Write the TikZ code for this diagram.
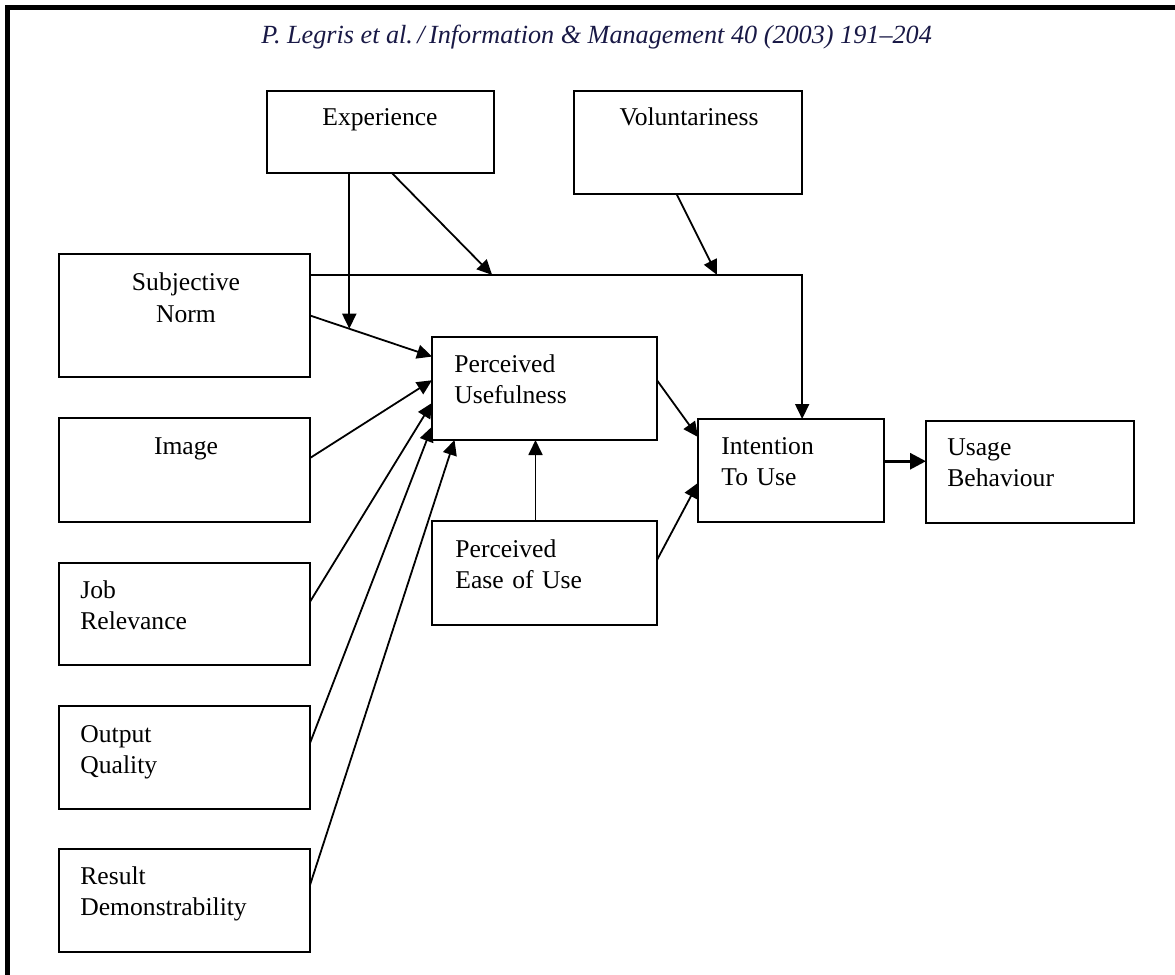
\documentclass[tikz,border=0pt]{standalone}
\usepackage{fontspec}
\setmainfont{Liberation Serif}
\usetikzlibrary{arrows.meta,fit,calc}
\definecolor{hdr}{RGB}{25,25,70}
\begin{document}
\begin{tikzpicture}[x=0.5pt,y=-0.5pt,
  box/.style={draw, line width=1pt, inner sep=0pt, outer sep=0pt},
  lbl/.style={font=\fontsize{12.8pt}{15.8pt}\selectfont, inner sep=0pt, anchor=base west, text width=120pt, align=left},
  lblc/.style={font=\fontsize{12.8pt}{16pt}\selectfont, inner sep=0pt, anchor=base, text width=110pt, align=center},
  arr/.style={line width=0.9pt, -{Triangle[length=7.5pt,width=7pt]}},
  ln/.style={line width=0.9pt}]
\useasboundingbox (0,0) rectangle (1175,975);
\fill[white] (0,0) rectangle (1175,975);
% page frame (top and left only)
\draw[line width=2.5pt, line join=miter] (1175,7.5) -- (7.5,7.5) -- (7.5,975);
% header
\node[font=\fontsize{13.1pt}{15pt}\selectfont\itshape, text=hdr, inner sep=0pt, anchor=base west] (title) at (261,43)
  {P. Legris et al.\,/\,Information \& Management 40 (2003) 191--204};
% boxes
\node[box, fit={(267,91) (494,173)}] (exp) {};
\node[box, fit={(574,91) (802,194)}] (vol) {};
\node[box, fit={(59,254) (310,377)}] (sn) {};
\node[box, fit={(59,418) (310,522)}] (img) {};
\node[box, fit={(59,563) (310,665)}] (job) {};
\node[box, fit={(59,706) (310,809)}] (out) {};
\node[box, fit={(59,849) (310,952)}] (res) {};
\node[box, fit={(432,337) (657,440)}] (pu) {};
\node[box, fit={(432,521) (657,625)}] (peu) {};
\node[box, fit={(698,419) (884,522)}] (itu) {};
\node[box, fit={(926,421) (1134,523)}] (ub) {};
% labels
\node[lblc] (texp) at (380,125) {Experience};
\node[lblc] (tvol) at (689,125) {Voluntariness};
\node[lblc] (tsn) at (186,290) {Subjective\\Norm};
\node[lblc] (timg) at (186,454) {Image};
\node[lbl] (tjob) at (80,598) {Job\\Relevance};
\node[lbl] (tout) at (80,742) {Output\\Quality};
\node[lbl] (tres) at (80,884) {Result\\Demonstrability};
\node[lbl] (tpu) at (454,372) {Perceived\\Usefulness};
\node[lbl] (tpeu) at (455,557) {Perceived\\Ease of Use};
\node[lbl] (titu) at (721,454) {Intention\\To Use};
\node[lbl] (tub) at (947,455) {Usage\\Behaviour};
% connector anchor points
\coordinate (snA) at ($(sn.north east)!0.17!(sn.south east)$);
\coordinate (ituTop) at ($(itu.north west)!0.56!(itu.north east)$);
% subjective norm -> intention (horizontal then down)
\draw[arr] (snA) -| (ituTop);
\coordinate (h1) at ($(snA)!0.37!(snA -| ituTop)$);
\coordinate (h2) at ($(snA)!0.827!(snA -| ituTop)$);
% experience / voluntariness moderators
\draw[arr] ($(exp.south west)!0.55!(exp.south east)$) -- (h1);
\draw[arr] ($(vol.south west)!0.45!(vol.south east)$) -- (h2);
% subjective norm -> PU, with experience moderator
\draw[arr] (sn.east) -- coordinate[pos=0.322] (m1) ($(pu.north west)!0.19!(pu.south west)$);
\draw[arr] (m1 |- exp.south) -- (m1);
% determinants -> PU
\draw[arr] ($(img.north east)!0.385!(img.south east)$) -- ($(pu.north west)!0.42!(pu.south west)$);
\draw[arr] ($(job.north east)!0.38!(job.south east)$) -- ($(pu.north west)!0.64!(pu.south west)$);
\draw[arr] ($(out.north east)!0.36!(out.south east)$) -- ($(pu.north west)!0.87!(pu.south west)$);
\draw[arr] ($(res.north east)!0.35!(res.south east)$) -- ($(pu.south west)!0.1!(pu.south east)$);
% PEU -> PU
\draw[arr] ($(peu.north west)!0.46!(peu.north east)$) -- ($(pu.south west)!0.46!(pu.south east)$);
% PU, PEU -> intention
\draw[arr] ($(pu.north east)!0.42!(pu.south east)$) -- ($(itu.north west)!0.175!(itu.south west)$);
\draw[arr] ($(peu.north east)!0.375!(peu.south east)$) -- ($(itu.north west)!0.62!(itu.south west)$);
% intention -> usage
\coordinate (iA) at ($(itu.north east)!0.41!(itu.south east)$);
\draw[arr, line width=1.5pt, -{Triangle[length=8pt,width=8pt]}] (iA) -- (iA -| ub.west);
\end{tikzpicture}
\end{document}
